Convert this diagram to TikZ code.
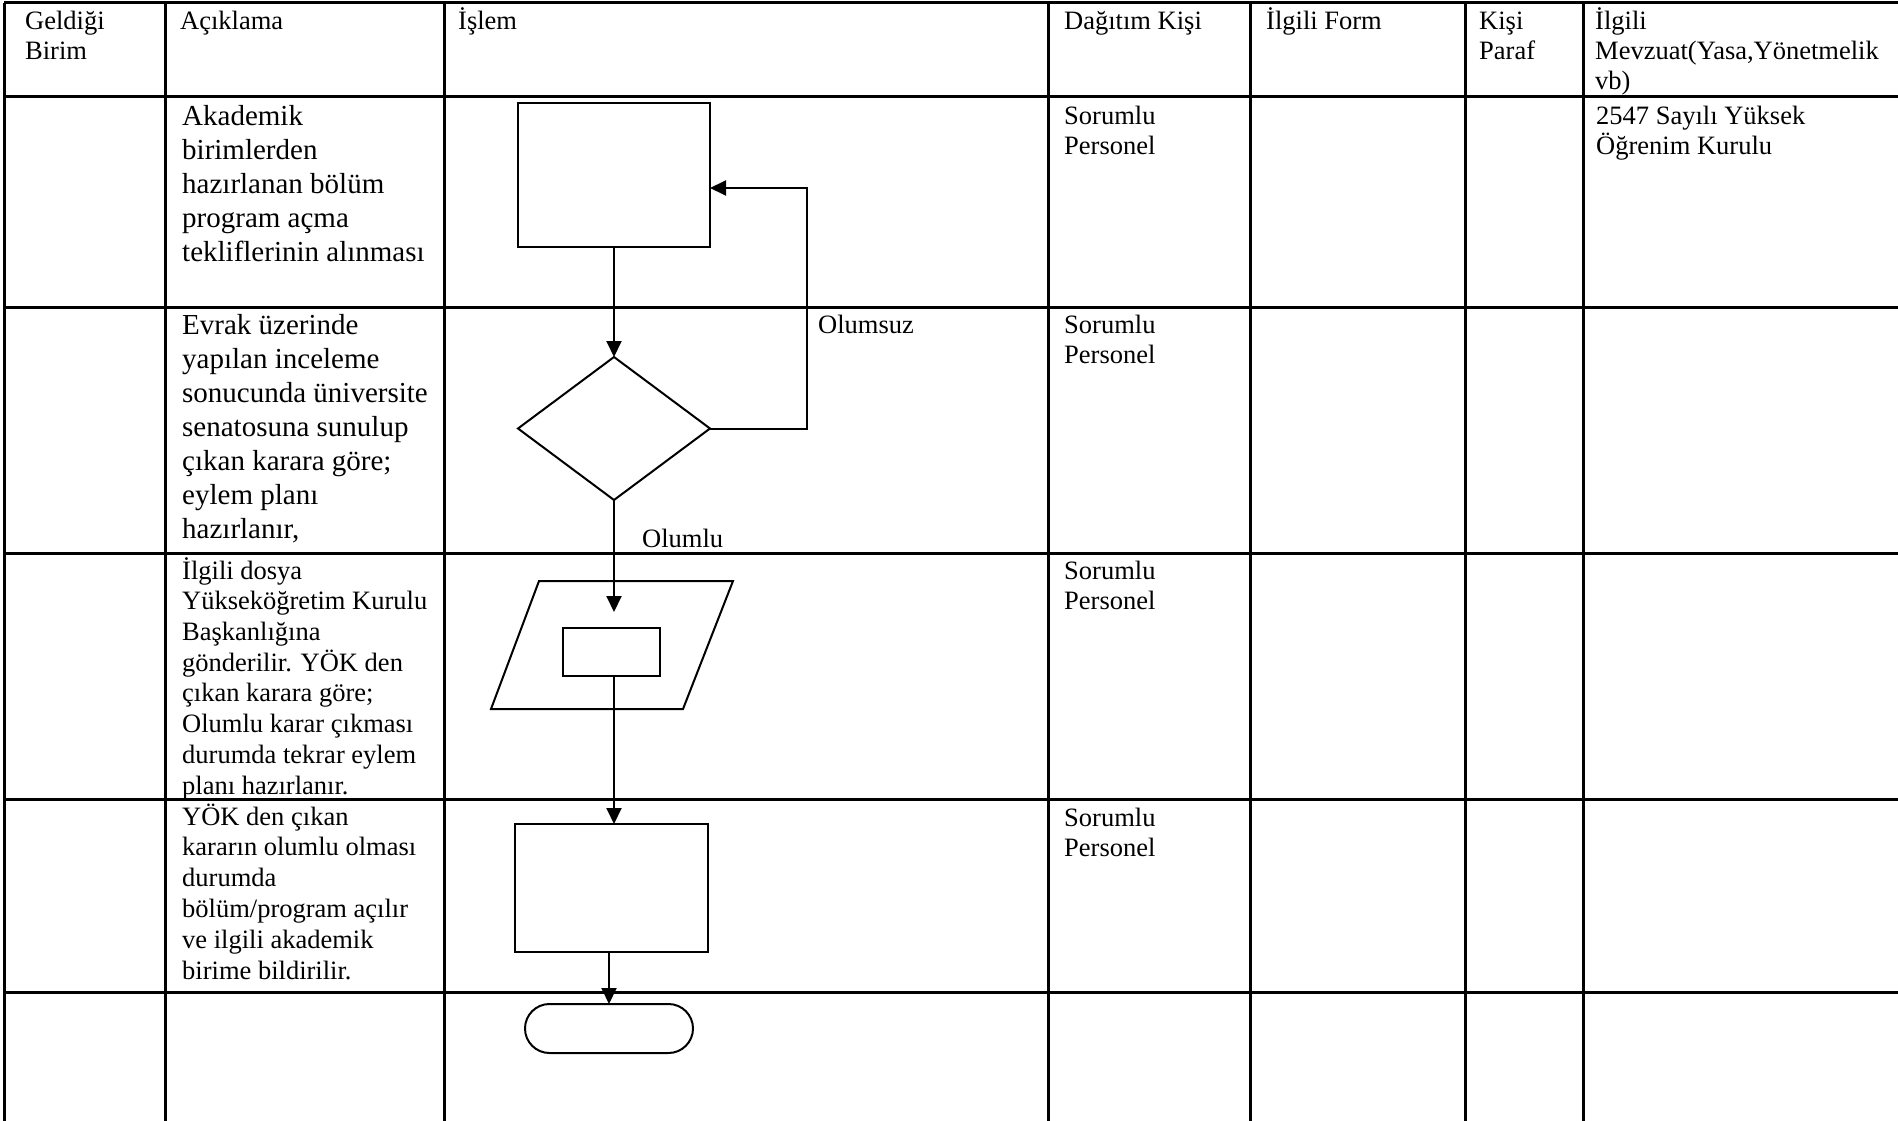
\documentclass[tikz,border=0pt]{standalone}
\usepackage{fontspec}
\setmainfont{Liberation Serif}
\usetikzlibrary{arrows.meta,shapes.geometric,shapes.misc}

\begin{document}
\begin{tikzpicture}[x=1pt,y=-1pt,
    cell/.style={anchor=base west, inner sep=0pt, align=left},
    hdr/.style={cell, font=\fontsize{26.5}{30.1}\selectfont},
    big/.style={cell, font=\fontsize{29}{34.1}\selectfont},
    txt/.style={cell, font=\fontsize{26.5}{30}\selectfont},
    blok/.style={draw, line width=2pt, rectangle, inner sep=0pt, outer sep=0pt},
    ok/.style={-{Triangle[length=16pt,width=15pt]}, line width=2pt}]

            \useasboundingbox (0,0) rectangle (1898,1121);

            % tablo
            \draw[line width=3pt] (4,3) -- (1898,3);
            \draw[line width=3pt] (4,97) -- (1898,97);
            \draw[line width=3pt] (4,307) -- (1898,307);
            \draw[line width=3pt] (4,553) -- (1898,553);
            \draw[line width=3pt] (4,799) -- (1898,799);
            \draw[line width=3pt] (4,992) -- (1898,992);
            \draw[line width=3pt] (4,3) -- (4,1121);
            \draw[line width=3pt] (165,3) -- (165,1121);
            \draw[line width=3pt] (444,3) -- (444,1121);
            \draw[line width=3pt] (1048,3) -- (1048,1121);
            \draw[line width=3pt] (1250,3) -- (1250,1121);
            \draw[line width=3pt] (1465,3) -- (1465,1121);
            \draw[line width=3pt] (1583,3) -- (1583,1121);

            % base = last line, so y is the last baseline
            \node[hdr] (geldigi) at (25,59.7) {Geldiği\\Birim};
            \node[hdr] (aciklama) at (180,29.6) {Açıklama};
            \node[hdr] (islem) at (458,29.6) {İşlem};
            \node[hdr] (dagitim) at (1064,29.6) {Dağıtım Kişi};
            \node[hdr] (form) at (1266,29.6) {İlgili Form};
            \node[hdr] (paraf) at (1479,59.7) {Kişi\\Paraf};
            \node[hdr] (mevzuat) at (1595,89.8) {İlgili\\Mevzuat(Yasa,Yönetmelik\\vb)};

            \node[big] (ack1) at (182,261.4) {Akademik\\birimlerden\\hazırlanan bölüm\\program açma\\tekliflerinin alınması};
            \node[big] (ack2) at (182,538.6) {Evrak üzerinde\\yapılan inceleme\\sonucunda üniversite\\senatosuna sunulup\\çıkan karara göre;\\eylem planı\\hazırlanır,};
            \node[txt, font=\fontsize{26.5}{30.7}\selectfont] (ack3) at (182,794) {İlgili dosya\\Yükseköğretim Kurulu\\Başkanlığına\\gönderilir. YÖK den\\çıkan karara göre;\\Olumlu karar çıkması\\durumda tekrar eylem\\planı hazırlanır.};
            \node[txt, font=\fontsize{26.5}{30.8}\selectfont] (ack4) at (182,979) {YÖK den çıkan\\kararın olumlu olması\\durumda\\bölüm/program açılır\\ve ilgili akademik\\birime bildirilir.};

            \node[txt] (sor1) at (1064,154.4) {Sorumlu\\Personel};
            \node[txt] (sor2) at (1064,363.4) {Sorumlu\\Personel};
            \node[txt] (sor3) at (1064,609.2) {Sorumlu\\Personel};
            \node[txt] (sor4) at (1064,856.4) {Sorumlu\\Personel};
            \node[txt] (mev1) at (1596,154.4) {2547 Sayılı Yüksek\\Öğrenim Kurulu};

            % akis
            \node[blok, minimum width=192pt, minimum height=144pt] (teklif) at (614,175) {};
            \node[blok, diamond, minimum width=192pt, minimum height=143pt] (karar) at (614,428.5) {};
            \draw[line width=2pt] (539,581) -- (733,581) -- (683,709) -- (491,709) -- cycle;
            \node[blok, minimum width=97pt, minimum height=48pt] (dosya) at (611.5,652) {};
            \node[blok, minimum width=193pt, minimum height=128pt] (acilis) at (611.5,888) {};
            \node[blok, rounded rectangle, minimum width=168pt, minimum height=49pt] (bitis) at (609,1028.5) {};
            \coordinate (don) at (807,188);
            \coordinate (giris) at (614,612);

            \draw[ok] (teklif.south) -- (karar.north);
            \draw[ok] (karar.east) -| (don) -- (don -| teklif.east);
            \draw[ok] (karar.south) -- (giris);
            \draw[ok] (dosya.south -| giris) -- (acilis.north -| giris);
            \draw[ok] (acilis.south -| bitis.north) -- (bitis.north);

            \node[txt] (olumsuz) at (818,333) {Olumsuz};
            \node[txt] (olumlu) at (642,547) {Olumlu};

        \end{tikzpicture}
\end{document}
